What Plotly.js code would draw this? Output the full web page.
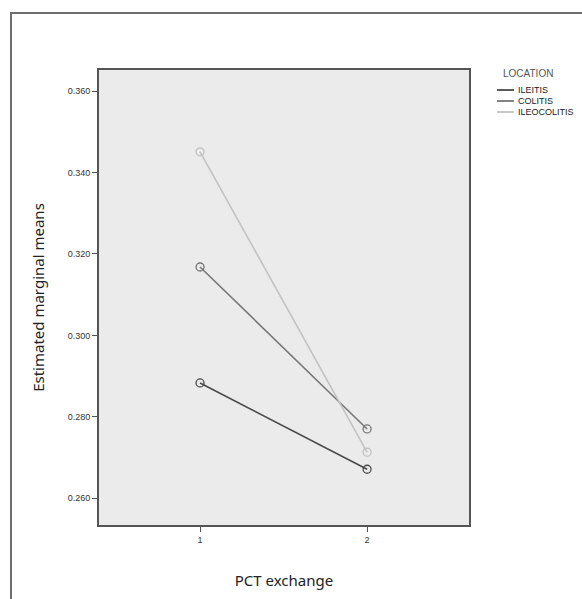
<!DOCTYPE html>
<html>
<head>
<meta charset="utf-8">
<script src="https://cdn.plot.ly/plotly-3.0.1.min.js"></script>
<style>
html, body { margin: 0; padding: 0; background: #fff; }
#frame { position: absolute; left: 10px; top: 12px; width: 600px; height: 620px;
  border-left: 2px solid #6e6e6e; border-top: 2px solid #6e6e6e; }
#chart { position: absolute; left: 0; top: 0; width: 582px; height: 599px; }
</style>
</head>
<body>
<div id="frame"></div>
<div id="chart"></div>
<script>
const pctExchange = [1, 2];
const tickLabelsX = ['1', '2'];
const ileitis = [0.2883, 0.2671];
const colitis = [0.3168, 0.2770];
const ileocolitis = [0.3451, 0.2713];
const seriesNames = ['ILEITIS', 'COLITIS', 'ILEOCOLITIS'];
const legendTitle = 'LOCATION';
const yTicks = [0.260, 0.280, 0.300, 0.320, 0.340, 0.360];
const yTickLabels = ['0.260', '0.280', '0.300', '0.320', '0.340', '0.360'];

const colors = ['#4a4a4a', '#777777', '#c2c2c2'];
const seriesVals = [ileitis, colitis, ileocolitis];

const traces = seriesVals.map((vals, i) => ({
  type: 'scatter',
  mode: 'lines+markers',
  x: pctExchange,
  y: vals,
  name: seriesNames[i],
  showlegend: false,
  line: { color: colors[i], width: 1.6 },
  marker: { symbol: 'circle-open', size: 8, color: colors[i], line: { width: 1.3, color: colors[i] } }
}));

// custom compact legend (paper coordinates)
const legX0 = 1.0757, legX1 = 1.1216, legTextX = 1.127;
const legY = [0.956, 0.9319, 0.9077];
const shapes = seriesNames.map((n, i) => ({
  type: 'line', xref: 'paper', yref: 'paper',
  x0: legX0, x1: legX1, y0: legY[i], y1: legY[i],
  line: { color: colors[i], width: 1.8 }
}));
const annotations = seriesNames.map((n, i) => ({
  xref: 'paper', yref: 'paper', x: legTextX, y: legY[i],
  xanchor: 'left', yanchor: 'middle', showarrow: false, text: n,
  font: { family: 'Liberation Sans Narrow, Liberation Sans, Arial, sans-serif', size: 9, color: '#222' }
}));
annotations.push({
  xref: 'paper', yref: 'paper', x: 1.1595, y: 0.9934,
  xanchor: 'center', yanchor: 'middle', showarrow: false, text: legendTitle,
  font: { family: 'Liberation Sans, Arial, sans-serif', size: 10, color: '#555' }
});

const layout = {
  width: 582,
  height: 599,
  margin: { l: 99, r: 113, t: 70, b: 74, pad: 0, autoexpand: false },
  paper_bgcolor: 'rgba(0,0,0,0)',
  plot_bgcolor: '#ebebeb',
  showlegend: false,
  font: { family: 'Liberation Sans, Arial, sans-serif', color: '#333' },
  shapes: shapes,
  annotations: annotations,
  xaxis: {
    range: [0.395, 2.61],
    tickvals: pctExchange,
    ticktext: tickLabelsX,
    ticks: 'outside', ticklen: 5, tickcolor: '#555', tickwidth: 1,
    showgrid: false, zeroline: false,
    showline: true, mirror: true, linecolor: '#555', linewidth: 2,
    tickfont: { size: 9, color: '#333' },
    title: { text: 'PCT exchange', font: { family: 'Noto Sans, Open Sans, sans-serif', size: 15, color: '#222' }, standoff: 32 }
  },
  yaxis: {
    range: [0.2534, 0.3652],
    tickvals: yTicks,
    ticktext: yTickLabels,
    ticks: 'outside', ticklen: 5, tickcolor: '#555', tickwidth: 1,
    showgrid: false, zeroline: false,
    showline: true, mirror: true, linecolor: '#555', linewidth: 2,
    tickfont: { size: 9, color: '#333' },
    title: { text: 'Estimated marginal means', font: { family: 'Noto Sans, Open Sans, sans-serif', size: 15, color: '#222' }, standoff: 19 }
  }
};

Plotly.newPlot('chart', traces, layout, { staticPlot: true, displayModeBar: false });
</script>
</body>
</html>
